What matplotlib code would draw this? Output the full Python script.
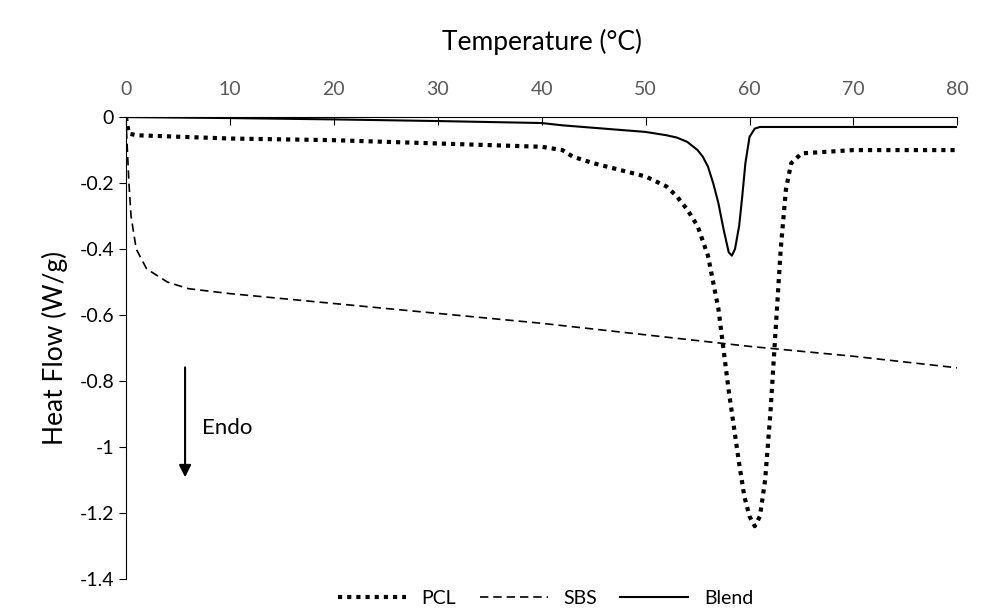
import matplotlib.pyplot as plt

plt.rcParams['font.family'] = ['Lato', 'DejaVu Sans']

pcl_t = [0, 0.3, 1, 10, 20, 30, 40, 42, 43, 45, 50, 52, 53, 54, 55, 56, 57, 58, 59, 59.5, 60, 60.5, 61, 61.5,
         62, 62.5, 63, 63.5, 64, 65, 70, 80]
pcl_hf = [0, -0.05, -0.055, -0.065, -0.07, -0.08, -0.09, -0.1, -0.12, -0.14, -0.18, -0.21, -0.24, -0.28, -0.33,
          -0.42, -0.58, -0.83, -1.05, -1.15, -1.21, -1.24, -1.21, -1.1, -0.9, -0.65, -0.4, -0.22, -0.14, -0.11,
          -0.1, -0.1]
sbs_t = [0, 0.3, 0.5, 1, 2, 4, 6, 10, 20, 30, 40, 50, 60, 70, 80]
sbs_hf = [0, -0.2, -0.3, -0.4, -0.46, -0.5, -0.52, -0.535, -0.565, -0.595, -0.625, -0.66, -0.695, -0.725, -0.76]
blend_t = [0, 10, 20, 30, 40, 42, 50, 52, 53, 54, 55, 55.5, 56, 56.5, 57, 57.5, 58, 58.3, 58.6, 59, 59.3, 59.6,
           60, 60.5, 61, 70, 80]
blend_hf = [0, -0.003, -0.007, -0.012, -0.018, -0.025, -0.045, -0.055, -0.062, -0.075, -0.1, -0.12, -0.15, -0.2,
            -0.26, -0.34, -0.41, -0.42, -0.4, -0.33, -0.24, -0.14, -0.06, -0.035, -0.03, -0.03, -0.03]

fig = plt.figure(figsize=(9.83, 6.13), dpi=100)
ax = fig.add_axes([0.128, 0.0555, 0.846, 0.7535])

ax.plot(pcl_t, pcl_hf, color='black', linestyle=(0, (1, 1.2)), linewidth=3, label='PCL')
ax.plot(sbs_t, sbs_hf, color='black', linestyle=(0, (5, 3)), linewidth=1.2, label='SBS')
ax.plot(blend_t, blend_hf, color='black', linewidth=1.5, label='Blend')

ax.set_xlim(0, 80)
ax.set_ylim(-1.4, 0)
ax.set_xticks(range(0, 81, 10))
ax.set_yticks([0, -0.2, -0.4, -0.6, -0.8, -1, -1.2, -1.4])
ax.set_yticklabels(['0', '-0.2', '-0.4', '-0.6', '-0.8', '-1', '-1.2', '-1.4'])
ax.xaxis.tick_top()
ax.xaxis.set_label_position('top')
ax.tick_params(axis='x', colors='#595959', labelsize=14, direction='in', length=6, color='black', pad=14)
ax.tick_params(axis='y', labelsize=14, direction='out', length=5)
for s in ['right', 'bottom']:
    ax.spines[s].set_visible(False)
ax.set_xlabel('Temperature (°C)', fontsize=19, labelpad=22)
ax.set_ylabel('Heat Flow (W/g)', fontsize=19, labelpad=8)

ax.annotate('', xy=(5.7, -1.1), xytext=(5.7, -0.75),
            arrowprops=dict(arrowstyle='-|>', color='black', lw=1.5, mutation_scale=18))
ax.text(7.3, -0.96, 'Endo', fontsize=16)

fig.legend(loc='lower center', bbox_to_anchor=(0.555, -0.018), ncol=3, frameon=False, fontsize=14,
           handlelength=3.5, columnspacing=1.2)

fig.savefig('out.png', dpi=100)
